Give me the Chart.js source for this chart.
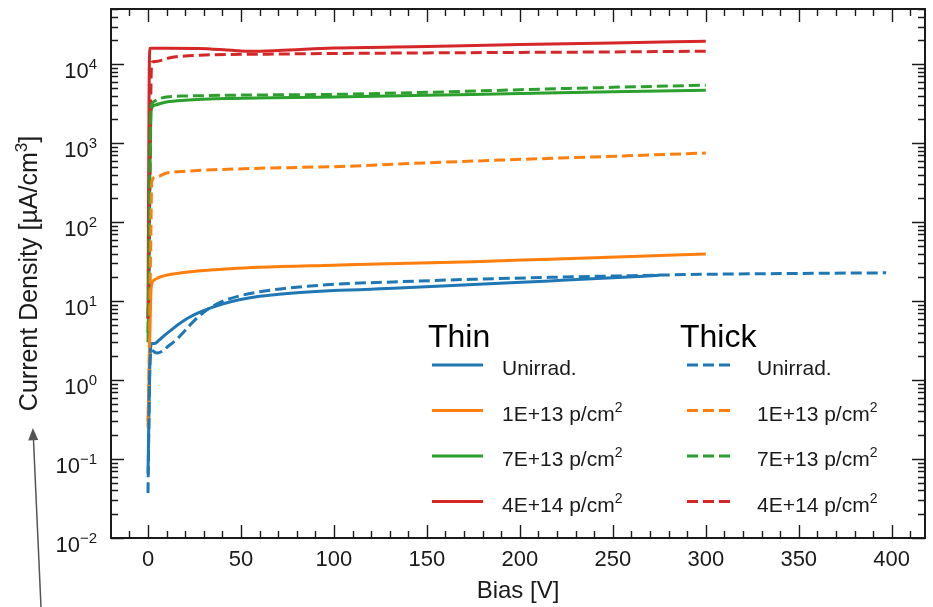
<!DOCTYPE html>
<html>
<head>
<meta charset="utf-8">
<script src="https://cdn.jsdelivr.net/npm/chart.js@4.4.1/dist/chart.umd.min.js"></script>
<style>
  html, body { margin: 0; padding: 0; background: #fff; }
  #wrap { width: 933px; height: 607px; }
</style>
</head>
<body>
<div id="wrap"><canvas id="iv"></canvas></div>
<script>
// bias [V] and current density [uA/cm^3]
const thinUnirradV = [0, 0.5, 1, 2, 3.5, 6, 9, 13, 17, 22, 27, 33, 40, 49, 60, 75, 100, 135, 175, 216, 250, 275];
const thinUnirradJ = [0.065, 0.35, 1.6, 2.9, 2.9, 3.2, 3.7, 4.4, 5.2, 6.2, 7.1, 8.1, 9.2, 10.4, 11.5, 12.5, 13.6, 14.6, 16.2, 18.0, 19.7, 21.2];
const thickUnirradV = [0, 0.5, 1, 2, 3, 5, 8, 11, 15, 19, 22, 27, 33, 40, 49, 60, 75, 100, 135, 175, 216, 260, 297, 340, 397];
const thickUnirradJ = [0.037, 0.3, 1.5, 2.4, 2.3, 2.2, 2.35, 2.7, 3.2, 4.0, 4.8, 6.3, 8.1, 9.9, 11.6, 13.1, 14.6, 16.3, 17.6, 18.9, 20.0, 21.0, 21.8, 22.3, 22.8];

const thin1e13V = [0, 0.5, 1, 1.5, 2, 3, 5, 10, 18, 28, 40, 60, 100, 135, 175, 216, 260, 300];
const thin1e13J = [0.3, 1.0, 4, 12, 16.5, 18.2, 19.5, 21.3, 22.8, 24.2, 25.3, 26.8, 28.5, 30.0, 31.5, 34.0, 36.8, 39.4];
const thick1e13V = [0, 0.5, 1, 1.5, 2, 4, 10, 20, 35, 63, 107, 135, 189, 240, 300];
const thick1e13J = [0.25, 1.0, 8, 60, 325, 370, 418, 440, 460, 483, 510, 545, 610, 670, 750];

const thin7e13V = [0, 0.5, 1, 1.5, 2, 4, 10, 20, 45, 100, 150, 200, 250, 300];
const thin7e13J = [3, 20, 400, 2000, 2780, 3050, 3330, 3500, 3680, 3830, 4030, 4250, 4470, 4690];
const thick7e13V = [0, 0.5, 1, 1.5, 2, 4, 10, 20, 45, 100, 150, 200, 250, 300];
const thick7e13J = [4, 30, 500, 2500, 3100, 3450, 3850, 3950, 4050, 4150, 4400, 4750, 5100, 5420];

const thin4e14V = [0, 0.3, 0.6, 1, 2, 10, 27, 45, 55, 70, 100, 150, 200, 250, 300];
const thin4e14J = [6, 200, 5000, 15800, 15900, 15900, 15800, 15000, 14600, 14900, 16000, 16800, 17700, 18600, 19500];
const thick4e14V = [0, 0.5, 1, 1.5, 2, 4, 12, 28, 64, 98, 150, 200, 250, 300];
const thick4e14J = [6, 20, 300, 4000, 10500, 10800, 12100, 13000, 13400, 13650, 13900, 14100, 14300, 14600];

const doseLabels = ['Unirrad.', '1E+13 p/cm^2', '7E+13 p/cm^2', '4E+14 p/cm^2'];
const doseColors = ['#1f77b4', '#ff7f0e', '#2ca02c', '#d62728'];
const groupTitles = ['Thin', 'Thick'];

const xMajorTicks = [0, 50, 100, 150, 200, 250, 300, 350, 400];
const yMajorExp = [-2, -1, 0, 1, 2, 3, 4];

const FONT = '"Liberation Sans", Arial, Helvetica, sans-serif';
const LINE_W = 3;
const DASH = [11, 5];

function pts(v, j) {
  return v.map((x, i) => ({ x: x, y: j[i] }));
}

const thinV = [thinUnirradV, thin1e13V, thin7e13V, thin4e14V];
const thinJ = [thinUnirradJ, thin1e13J, thin7e13J, thin4e14J];
const thickV = [thickUnirradV, thick1e13V, thick7e13V, thick4e14V];
const thickJ = [thickUnirradJ, thick1e13J, thick7e13J, thick4e14J];

const datasets = [];
for (let i = 0; i < 4; i++) {
  datasets.push({
    label: 'Thin ' + doseLabels[i],
    data: pts(thinV[i], thinJ[i]),
    borderColor: doseColors[i],
    borderWidth: LINE_W,
    borderDash: [],
    pointRadius: 0,
    cubicInterpolationMode: 'monotone',
    order: 2
  });
}
for (let i = 0; i < 4; i++) {
  datasets.push({
    label: 'Thick ' + doseLabels[i],
    data: pts(thickV[i], thickJ[i]),
    borderColor: doseColors[i],
    borderWidth: LINE_W,
    borderDash: DASH,
    pointRadius: 0,
    cubicInterpolationMode: 'monotone',
    order: 1
  });
}

// text with a raised part after '^', optional tail after it
function drawSup(ctx, text, x, y, size, align, tail) {
  const parts = text.split('^');
  const base = parts[0], sup = parts[1] || '';
  tail = tail || '';
  const supSize = Math.round(size * 0.68);
  ctx.font = size + 'px ' + FONT;
  const wb = ctx.measureText(base).width;
  const wt = ctx.measureText(tail).width;
  ctx.font = supSize + 'px ' + FONT;
  const ws = ctx.measureText(sup).width;
  const total = wb + ws + wt;
  let x0 = x;
  if (align === 'right') x0 = x - total;
  else if (align === 'center') x0 = x - total / 2;
  ctx.textAlign = 'left';
  ctx.textBaseline = 'alphabetic';
  ctx.font = size + 'px ' + FONT;
  ctx.fillText(base, x0, y);
  if (tail) ctx.fillText(tail, x0 + wb + ws, y);
  ctx.font = supSize + 'px ' + FONT;
  ctx.fillText(sup, x0 + wb, y - size * 0.42);
}

const framePlugin = {
  id: 'frame',
  afterDraw(chart) {
    const ctx = chart.ctx;
    const a = chart.chartArea;
    const xs = chart.scales.x, ys = chart.scales.y;
    ctx.save();

    // ticks, all pointing inwards, mirrored on top / right
    ctx.strokeStyle = '#1a1a1a';
    ctx.lineWidth = 1.4;
    ctx.beginPath();
    for (let v = -10; v <= 410; v += 10) {
      const px = Math.round(xs.getPixelForValue(v)) + 0.5;
      const len = xMajorTicks.includes(v) ? 13 : 7;
      ctx.moveTo(px, a.bottom); ctx.lineTo(px, a.bottom - len);
      ctx.moveTo(px, a.top); ctx.lineTo(px, a.top + len);
    }
    for (const e of yMajorExp) {
      for (let k = 1; k <= 9; k++) {
        const val = k * Math.pow(10, e);
        if (val > ys.max) break;
        const py = Math.round(ys.getPixelForValue(val)) + 0.5;
        const len = k === 1 ? 13 : 7;
        ctx.moveTo(a.left, py); ctx.lineTo(a.left + len, py);
        ctx.moveTo(a.right, py); ctx.lineTo(a.right - len, py);
      }
    }
    ctx.stroke();

    // box
    ctx.lineWidth = 2;
    ctx.strokeRect(a.left, a.top, a.right - a.left, a.bottom - a.top);

    // tick labels
    ctx.fillStyle = '#1a1a1a';
    ctx.font = '22px ' + FONT;
    ctx.textAlign = 'center';
    ctx.textBaseline = 'alphabetic';
    for (const v of xMajorTicks) {
      ctx.fillText(String(v), xs.getPixelForValue(v), a.bottom + 28);
    }
    for (const e of yMajorExp) {
      const py = ys.getPixelForValue(Math.pow(10, e));
      const ex = e < 0 ? '\u2212' + Math.abs(e) : String(e);
      drawSup(ctx, '10^' + ex, a.left - 14, py + 14, 22, 'right');
    }

    // axis titles
    ctx.font = '24px ' + FONT;
    ctx.textAlign = 'center';
    ctx.fillText('Bias [V]', (a.left + a.right) / 2, 598);
    ctx.save();
    ctx.translate(37, (a.top + a.bottom) / 2);
    ctx.rotate(-Math.PI / 2);
    drawSup(ctx, 'Current Density [\u00b5A/cm^3', 0, 0, 25, 'center', ']');
    ctx.restore();

    // legend, two columns
    const cols = [{ title: 428, x0: 432, x1: 483, tx: 502 }, { title: 680, x0: 687, x1: 735, tx: 757 }];
    const rows = [365, 410.5, 456, 501.5];
    cols.forEach((c, ci) => {
      ctx.fillStyle = '#000';
      ctx.font = '32px ' + FONT;
      ctx.textAlign = 'left';
      ctx.fillText(groupTitles[ci], c.title, 347);
      for (let r = 0; r < 4; r++) {
        const ds = chart.data.datasets[ci * 4 + r];
        ctx.strokeStyle = ds.borderColor;
        ctx.lineWidth = LINE_W;
        ctx.setLineDash(ds.borderDash);
        ctx.beginPath();
        ctx.moveTo(c.x0, rows[r]); ctx.lineTo(c.x1, rows[r]);
        ctx.stroke();
        ctx.setLineDash([]);
        ctx.fillStyle = '#1a1a1a';
        drawSup(ctx, doseLabels[r], c.tx, rows[r] + 10, 21, 'left');
      }
    });

    // pointer arrow at the bottom left
    ctx.strokeStyle = '#555';
    ctx.fillStyle = '#555';
    ctx.lineWidth = 1.5;
    ctx.beginPath();
    ctx.moveTo(41, 607); ctx.lineTo(33.4, 438);
    ctx.stroke();
    ctx.beginPath();
    ctx.moveTo(32.9, 428); ctx.lineTo(28.2, 440.5); ctx.lineTo(38.2, 440); ctx.closePath();
    ctx.fill();

    ctx.restore();
  }
};

new Chart(document.getElementById('iv'), {
  type: 'line',
  data: { datasets: datasets },
  options: {
    responsive: true,
    maintainAspectRatio: false,
    animation: false,
    layout: { padding: { left: 111, right: 8, top: 9, bottom: 69 } },
    plugins: { legend: { display: false }, tooltip: { enabled: false } },
    scales: {
      x: { type: 'linear', min: -19.9, max: 417.9, display: false },
      y: { type: 'logarithmic', min: 0.01, max: 50000, display: false }
    }
  },
  plugins: [framePlugin]
});
</script>
</body>
</html>
